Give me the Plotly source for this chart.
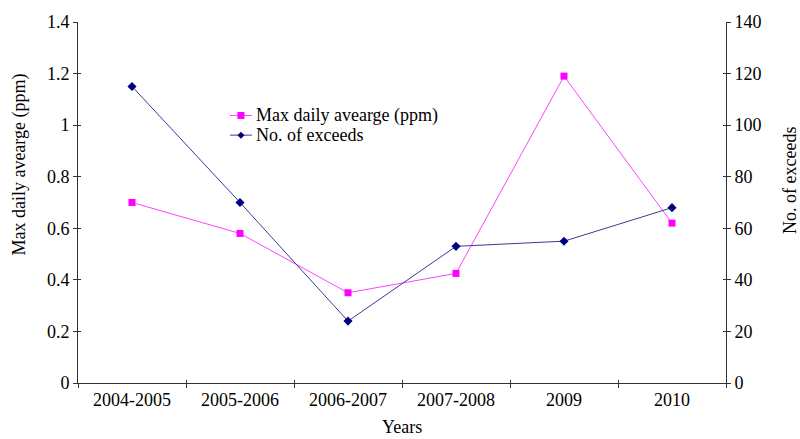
import plotly.graph_objects as go

# Categories and series values
years = ["2004-2005", "2005-2006", "2006-2007", "2007-2008", "2009", "2010"]
max_daily_avg = [0.70, 0.58, 0.35, 0.425, 1.19, 0.62]   # ppm, left axis
exceeds = [115, 70, 24, 53, 55, 68]                   # count, right axis

series_names = ["Max daily avearge (ppm)", "No. of exceeds"]

font_family = "Liberation Serif, Times New Roman, serif"
axis_color = "#333333"
fs = 18
pink_line, pink_mark = "#FF44FF", "#FF00FF"
navy_line, navy_mark = "#3A3A99", "#000080"

fig = go.Figure()

fig.add_trace(go.Scatter(
    x=years, y=max_daily_avg, name=series_names[0],
    mode="lines+markers",
    line=dict(color=pink_line, width=1),
    marker=dict(symbol="square", size=7, color=pink_mark),
    yaxis="y", showlegend=False,
))
fig.add_trace(go.Scatter(
    x=years, y=exceeds, name=series_names[1],
    mode="lines+markers",
    line=dict(color=navy_line, width=1),
    marker=dict(symbol="diamond", size=7, color=navy_mark),
    yaxis="y2", showlegend=False,
))

# invisible carriers so the tick-only overlay axes are drawn
fig.add_trace(go.Scatter(x=years, y=[None] * len(years), xaxis="x2", yaxis="y3",
                         showlegend=False, hoverinfo="skip"))
fig.add_trace(go.Scatter(x=years, y=[None] * len(years), xaxis="x2", yaxis="y4",
                         showlegend=False, hoverinfo="skip"))

fig.update_layout(
    width=800, height=439,
    margin=dict(l=78, r=74, t=16, b=56),
    paper_bgcolor="white", plot_bgcolor="white",
    font=dict(family=font_family, size=fs, color="black"),
    showlegend=False,
    xaxis=dict(
        type="category", range=[-0.5, 5.5],
        showgrid=False, zeroline=False,
        showline=True, linecolor=axis_color, linewidth=1,
        ticks="outside", ticklen=4, tickcolor=axis_color,
        tickson="boundaries",
        tickfont=dict(size=fs),
    ),
    yaxis=dict(
        range=[0, 1.4], dtick=0.2,
        showgrid=False, zeroline=False,
        showline=True, linecolor=axis_color, linewidth=1,
        ticks="outside", ticklen=4, tickcolor=axis_color,
        tickformat="~g",
        tickfont=dict(size=fs),
    ),
    yaxis2=dict(
        range=[0, 140], dtick=20, overlaying="y", side="right",
        showgrid=False, zeroline=False,
        showline=True, linecolor=axis_color, linewidth=1,
        ticks="outside", ticklen=4, tickcolor=axis_color,
        tickfont=dict(size=fs),
    ),
    # inner halves of the crossing tick marks
    xaxis2=dict(
        type="category", range=[-0.5, 5.5], overlaying="x", anchor="y",
        side="bottom", categoryorder="array", categoryarray=years,
        showgrid=False, zeroline=False, showline=False,
        ticks="inside", ticklen=3, tickcolor=axis_color, tickson="boundaries",
        showticklabels=False,
    ),
    yaxis3=dict(
        range=[0, 1.4], dtick=0.2, overlaying="y", side="left", anchor="x",
        showgrid=False, zeroline=False, showline=False,
        ticks="inside", ticklen=3, tickcolor=axis_color, showticklabels=False,
    ),
    yaxis4=dict(
        range=[0, 140], dtick=20, overlaying="y", side="right", anchor="x",
        showgrid=False, zeroline=False, showline=False,
        ticks="inside", ticklen=3, tickcolor=axis_color, showticklabels=False,
    ),
)

# axis titles
fig.add_annotation(text="Max daily avearge (ppm)", textangle=-90,
                   xref="paper", yref="paper", x=-0.0895, y=0.605,
                   xanchor="center", yanchor="middle", showarrow=False,
                   font=dict(size=fs))
fig.add_annotation(text="No. of exceeds", textangle=-90,
                   xref="paper", yref="paper", x=1.099, y=0.56,
                   xanchor="center", yanchor="middle", showarrow=False,
                   font=dict(size=fs))
fig.add_annotation(text="Years",
                   xref="paper", yref="paper", x=0.5, y=-0.122,
                   xanchor="center", yanchor="middle", showarrow=False,
                   font=dict(size=fs))

# compact legend: short line sample with its marker, then the series name
legend_x0, legend_x1, legend_mx, legend_tx = 0.2346, 0.2685, 0.2515, 0.2716
legend_rows = [0.7411, 0.6866]
legend_styles = [(pink_line, pink_mark, "square"), (navy_line, navy_mark, "diamond")]
for name, ry, (lc, mc, sym) in zip(series_names, legend_rows, legend_styles):
    fig.add_shape(type="line", xref="paper", yref="paper",
                  x0=legend_x0, x1=legend_x1, y0=ry, y1=ry,
                  line=dict(color=lc, width=1))
    if sym == "square":
        fig.add_shape(type="rect", xref="paper", yref="paper",
                      xsizemode="pixel", ysizemode="pixel",
                      xanchor=legend_mx, yanchor=ry,
                      x0=-3.5, x1=3.5, y0=-3.5, y1=3.5,
                      fillcolor=mc, line=dict(width=0))
    else:
        fig.add_shape(type="path", xref="paper", yref="paper",
                      xsizemode="pixel", ysizemode="pixel",
                      xanchor=legend_mx, yanchor=ry,
                      path="M -3.5 0 L 0 3.5 L 3.5 0 L 0 -3.5 Z",
                      fillcolor=mc, line=dict(width=0))
    fig.add_annotation(text=name, xref="paper", yref="paper",
                       x=legend_tx, y=ry, xanchor="left", yanchor="middle",
                       showarrow=False, font=dict(size=fs))

fig.write_html("out.html")
